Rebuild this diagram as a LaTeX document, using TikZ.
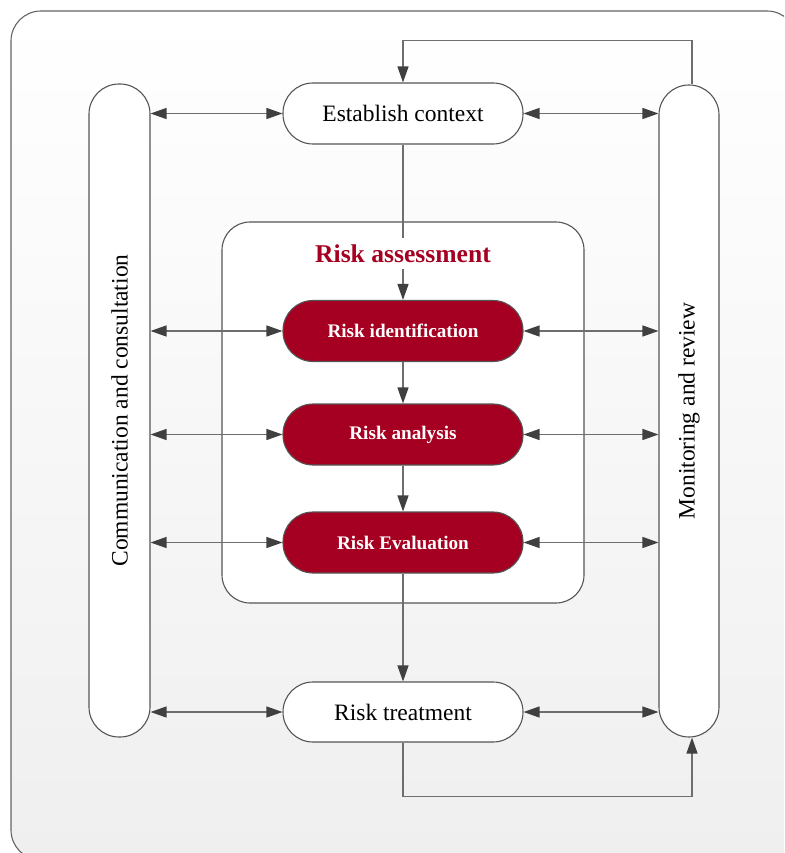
\documentclass[tikz,border=0pt]{standalone}
\usepackage{fontspec}
\setmainfont{Liberation Serif}
\usetikzlibrary{arrows.meta}

\definecolor{riskred}{RGB}{165,0,33}
\definecolor{edgegray}{RGB}{85,85,85}
\definecolor{linegray}{RGB}{110,110,110}
\definecolor{tipgray}{RGB}{64,64,64}
\definecolor{panelbottom}{RGB}{239,239,239}
\definecolor{framegray}{RGB}{100,100,100}

\tikzset{
  >={Triangle[length=16pt,width=11pt,color=tipgray]},
  pill/.style={draw=edgegray, line width=1.1pt, fill=white, rounded corners=30pt,
    minimum width=240pt, minimum height=61pt, inner sep=0pt,
    font=\fontsize{23.5}{28}\selectfont, text=black},
  riskpill/.style={pill, fill=riskred, text=white,
    font=\fontsize{19.2}{23}\selectfont\bfseries},
  sidebar/.style={pill, minimum width=61pt, minimum height=653pt},
  container/.style={draw=edgegray, line width=1.1pt, fill=white, rounded corners=28pt,
    minimum width=362pt, minimum height=381pt, inner sep=0pt},
  flow/.style={draw=linegray, line width=1.3pt, ->},
  twoway/.style={draw=linegray, line width=1.3pt, <->},
}

\begin{document}
\begin{tikzpicture}[x=1pt,y=-1pt]
\useasboundingbox (0,0) rectangle (784,853);
\fill[white] (0,0) rectangle (784,853);

% outer panel with a soft vertical gradient
\begin{scope}
  \clip (0,0) rectangle (784,853);
  \shade[top color=white, bottom color=panelbottom, rounded corners=30pt]
    (11,11) rectangle (797,860);
  \draw[framegray, line width=1.1pt, rounded corners=30pt]
    (11,11) rectangle (797,860);
\end{scope}

% risk assessment group
\node[container] (assess) at (403,412.5) {};

% side bars
\node[sidebar] (comm) at (119.5,410.5) {\rotatebox{90}{Communication and consultation}};
\node[sidebar, minimum width=60pt, minimum height=652pt] (mon) at (689,411)
  {\rotatebox{90}{Monitoring and review}};

% process steps
\node[pill] (ctx) at (403,113.5) {Establish context};
\node[pill, minimum height=60pt] (treat) at (403,712) {Risk treatment};
\node[riskpill] (ident) at (403,331) {Risk identification};
\node[riskpill] (anal) at (403,434.5) {Risk analysis};
\node[riskpill] (evalu) at (403,542.5) {Risk Evaluation};

% exchanges with the side bars
\foreach \n in {ctx,ident,anal,evalu,treat}{
  \draw[twoway] (comm.east |- \n.west) -- (\n.west);
  \draw[twoway] (\n.east) -- (mon.west |- \n.east);
}

% main flow
\draw[flow] (ctx.south) -- (ident.north);
\draw[flow] (ident.south) -- (anal.north);
\draw[flow] (anal.south) -- (evalu.north);
\draw[flow] (evalu.south) -- (treat.north);

% group title over the flow line
\node[fill=white, inner xsep=4pt, inner ysep=6.5pt, text=riskred,
  font=\fontsize{25.6}{30}\selectfont\bfseries] (asstitle) at (403,253.5) {Risk assessment};

% feedback loops
\draw[flow] (treat.south) -- ++(0,54) -| ([xshift=3pt]mon.south);
\draw[flow] ([xshift=3pt]mon.north) -- ++(0,-44) -| (ctx.north);
\end{tikzpicture}
\end{document}
